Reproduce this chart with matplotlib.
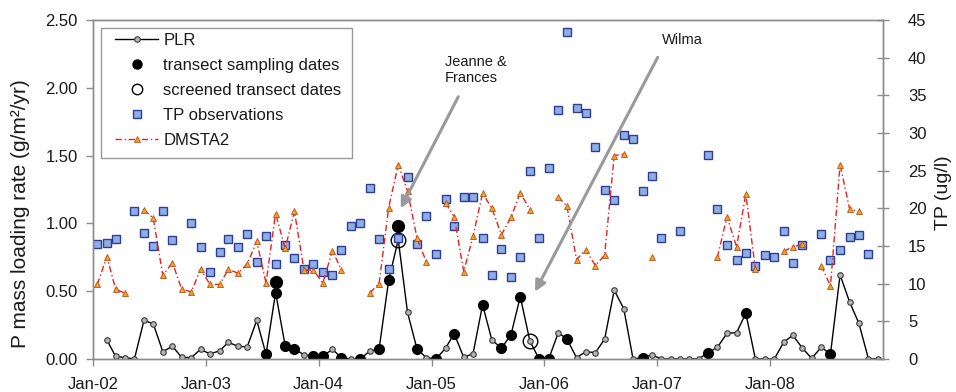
import numpy as np
import pandas as pd
import matplotlib
matplotlib.use("Agg")
import matplotlib.pyplot as plt
import matplotlib.dates as mdates
from matplotlib.lines import Line2D
from matplotlib.patches import Rectangle

plt.rcParams['font.family'] = ['Liberation Sans', 'DejaVu Sans']

# ---------------- data ----------------
# PLR (left axis, g/m2/yr), monthly from Feb 2002
plr_start = "2002-02"
plr_values = [0.14, 0.02, 0.01, 0.00, 0.285, 0.26, 0.054, 0.094, 0.012, 0.01, 0.071,
              0.037, 0.061, 0.123, 0.094, 0.089, 0.285, 0.035, 0.49, 0.098, 0.076, 0.03,
              0.022, 0.022, 0.071, 0.01, 0.0, 0.0, 0.059, 0.074, 0.58, 0.88, 0.344,
              0.071, 0.01, 0.0, 0.079, 0.187, 0.012, 0.039, 0.40, 0.14, 0.079, 0.18,
              0.46, 0.133, 0.0, 0.0, 0.194, 0.147, 0.01, 0.054, 0.047, 0.147, 0.507,
              0.371, 0.0, 0.01, 0.03, 0.0, 0.0, 0.0, 0.0, 0.0, 0.047, 0.086, 0.19,
              0.194, 0.337, 0.0, 0.0, 0.0, 0.125, 0.175, 0.081, 0.005, 0.086, 0.037,
              0.62, 0.42, 0.263, 0.0, 0.0]

# transect sampling dates (left axis)
transect_months = ["2003-07", "2003-08", "2003-09", "2003-10", "2003-12", "2004-01",
                   "2004-03", "2004-05", "2004-07", "2004-08", "2004-11", "2005-01",
                   "2005-03", "2005-06", "2005-08", "2005-09", "2005-10", "2005-12",
                   "2006-01", "2006-03", "2006-11", "2007-06", "2007-10", "2008-07"]
transect_values = [0.035, 0.49, 0.098, 0.076, 0.022, 0.022, 0.01, 0.0, 0.074, 0.58,
                   0.071, 0.0, 0.187, 0.40, 0.079, 0.18, 0.46, 0.0, 0.0, 0.147, 0.01,
                   0.047, 0.337, 0.037]
transect_upper_months = ["2003-08", "2004-09"]
transect_upper_values = [0.57, 0.98]

# screened transect dates (left axis)
screened_months = ["2004-09", "2005-11"]
screened_values = [0.88, 0.133]

# TP observations (right axis, ug/l)
tp_months = ["2002-01", "2002-02", "2002-03", "2002-05", "2002-06", "2002-07", "2002-08",
             "2002-09", "2002-11", "2002-12", "2003-01", "2003-02", "2003-03", "2003-04",
             "2003-05", "2003-06", "2003-07", "2003-08", "2003-09", "2003-10", "2003-11",
             "2003-12", "2004-01", "2004-02", "2004-03", "2004-04", "2004-05", "2004-06",
             "2004-07", "2004-08", "2004-09", "2004-10", "2004-11", "2004-12", "2005-01",
             "2005-02", "2005-03", "2005-04", "2005-05", "2005-06", "2005-07", "2005-08",
             "2005-09", "2005-10", "2005-11", "2005-12", "2006-01", "2006-02", "2006-03",
             "2006-04", "2006-05", "2006-06", "2006-07", "2006-08", "2006-09", "2006-10",
             "2006-11", "2006-12", "2007-01", "2007-03", "2007-06", "2007-07", "2007-08",
             "2007-09", "2007-10", "2007-11", "2007-12", "2008-01", "2008-02", "2008-03",
             "2008-04", "2008-06", "2008-07", "2008-08", "2008-09", "2008-10", "2008-11"]
tp_values = [15.2, 15.4, 15.9, 19.7, 16.7, 15.0, 19.6, 15.8, 18.1, 14.9, 11.5, 14.2,
             15.9, 14.9, 16.6, 12.9, 16.3, 12.6, 15.1, 13.4, 12.0, 12.6, 11.5, 11.1,
             14.5, 17.7, 18.1, 22.7, 15.9, 12.0, 16.0, 24.1, 15.2, 19.0, 14.0, 21.3,
             17.7, 21.5, 21.5, 16.0, 11.1, 14.6, 10.9, 13.6, 25.0, 16.1, 25.4, 33.0,
             43.4, 33.3, 32.7, 28.2, 22.5, 21.1, 29.8, 29.2, 22.3, 24.3, 16.1, 17.0,
             27.1, 19.9, 15.1, 13.2, 14.1, 12.3, 13.8, 13.6, 17.0, 12.8, 15.1, 16.6,
             13.1, 14.5, 16.2, 16.4, 14.0]

# DMSTA2 (right axis, ug/l), monthly from Jan 2002 (None = no value)
dmsta_start = "2002-01"
dmsta_values = [9.9, 13.6, 9.3, 8.7, None, 19.8, 18.7, 11.1, 12.8, 9.3, 8.9, 11.9,
                9.9, 9.9, 11.9, 11.4, 12.6, 15.6, 10.1, 19.3, 14.7, 19.6, 11.8, 11.8,
                10.1, 14.4, 11.8, None, None, 8.8, 10.0, 20.1, 25.8, 22.3, 16.0, 12.9,
                None, 20.7, 18.9, 11.6, 16.3, 22.0, 20.0, 16.5, 18.8, 22.1, 19.8, None,
                None, 21.5, 20.3, 13.2, 14.5, 12.4, 13.8, 27.0, 27.2, None, None, 13.6,
                None, None, None, None, None, None, 13.5, 18.9, 14.9, 21.9, 11.9, None,
                None, 14.3, 14.9, 15.2, None, 12.4, 9.7, 25.8, 19.9, 19.6]

x_tick_years = [2002, 2003, 2004, 2005, 2006, 2007, 2008]
left_ticks = [0.0, 0.5, 1.0, 1.5, 2.0, 2.5]
right_ticks = [0, 5, 10, 15, 20, 25, 30, 35, 40, 45]


def mid_month(months):
    return pd.to_datetime(months) + pd.Timedelta(days=14)


def monthly(start, n):
    return pd.date_range(start + "-01", periods=n, freq="MS") + pd.Timedelta(days=14)


plr_dates = monthly(plr_start, len(plr_values))
dmsta_dates = monthly(dmsta_start, len(dmsta_values))
dmsta_arr = np.array([np.nan if v is None else v for v in dmsta_values], dtype=float)

# ---------------- figure ----------------
fig = plt.figure(figsize=(9.56, 3.92), dpi=100)
ax = fig.add_axes([93 / 956, 1 - 359 / 392, 790 / 956, 339 / 392])
ax2 = ax.twinx()

spine_c = '#8c8c8c'
text_c = '#1a1a1a'
sq_face, sq_edge = '#8fafe3', '#2e3d9c'
tri_face, tri_edge = '#f3a322', '#b8501a'
dm_color = '#ee2020'
dm_dash = (0, (4.5, 2, 1, 2))

ax.plot(plr_dates, plr_values, '-', color='black', lw=1.0, marker='o', ms=4.0,
        mfc='#b4b4b4', mec='#3a3a3a', mew=0.8, zorder=3)
ax.plot(mid_month(transect_months), transect_values, 'o', color='black', ms=7.0,
        zorder=4, ls='none')
ax.plot(mid_month(transect_upper_months), transect_upper_values, 'o', color='black',
        ms=8.5, zorder=4, ls='none')
ax.plot(mid_month(screened_months), screened_values, 'o', mfc='none', mec='black',
        mew=1.0, ms=10.5, zorder=4, ls='none')

ax2.plot(mid_month(tp_months), tp_values, 's', ls='none', ms=5.2, mfc=sq_face,
         mec=sq_edge, mew=1.0, zorder=2)
ax2.plot(dmsta_dates, dmsta_arr, color=dm_color, lw=1.0, ls=dm_dash,
         marker='^', ms=4.2, mfc=tri_face, mec=tri_edge, mew=0.6, zorder=3)

# axes setup
ax.set_xlim(pd.Timestamp("2002-01-01"), pd.Timestamp("2009-01-01"))
ax.set_ylim(0, 2.5)
ax2.set_ylim(0, 45)
ax.set_xticks([pd.Timestamp(f"{y}-01-01") for y in x_tick_years])
ax.xaxis.set_major_formatter(mdates.DateFormatter('%b-%y'))
ax.set_yticks(left_ticks)
ax.set_yticklabels([f"{v:.2f}" for v in left_ticks])
ax2.set_yticks(right_ticks)

for a in (ax, ax2):
    for s in a.spines.values():
        s.set_color(spine_c)
        s.set_linewidth(1.0)

ax.tick_params(axis='x', direction='out', length=5, width=1, color=spine_c,
               labelsize=12, labelcolor=text_c, pad=8)
ax.tick_params(axis='y', direction='out', length=5, width=1, color=spine_c,
               labelsize=12, labelcolor=text_c, pad=6)
ax2.tick_params(axis='y', direction='inout', length=8, width=1, color=spine_c,
                labelsize=12, labelcolor=text_c, pad=14)

ax.set_ylabel('P mass loading rate (g/m²/yr)', fontsize=15, color=text_c)
ax.yaxis.set_label_coords(-0.080, 0.43)
ax2.set_ylabel('TP (ug/l)', fontsize=14, color=text_c)
ax2.yaxis.set_label_coords(1.066, 0.49)

# annotations
arrow_kw = dict(arrowstyle='-|>', color='#9a9a9a', lw=2.2, mutation_scale=16,
                shrinkA=0, shrinkB=0)
ax2.annotate('', xy=(0.3895, 0.4445), xytext=(0.4624, 0.7737),
             xycoords='axes fraction', textcoords='axes fraction', arrowprops=arrow_kw)
ax2.annotate('', xy=(0.5595, 0.1985), xytext=(0.7148, 0.890),
             xycoords='axes fraction', textcoords='axes fraction', arrowprops=arrow_kw)
ax2.text(0.4456, 0.8525, 'Jeanne &\nFrances', transform=ax2.transAxes, fontsize=10.5,
         ha='left', va='center', color=text_c, linespacing=1.25)
ax2.text(0.7199, 0.941, 'Wilma', transform=ax2.transAxes, fontsize=10.5,
         ha='left', va='center', color=text_c)

# legend (frame drawn separately so the side padding can exceed the top padding)
frame = Rectangle((0.0101, 0.593), 0.3177, 0.3826, transform=ax2.transAxes,
                  facecolor='white', edgecolor='#999999', lw=1.0, zorder=9)
ax2.add_patch(frame)
handles = [
    Line2D([], [], color='black', lw=1.0, marker='o', ms=4.0, mfc='#b4b4b4',
           mec='#3a3a3a', mew=0.8),
    Line2D([], [], ls='none', marker='o', color='black', ms=6.5),
    Line2D([], [], ls='none', marker='o', mfc='none', mec='black', mew=1.0, ms=7.5),
    Line2D([], [], ls='none', marker='s', ms=5.2, mfc=sq_face, mec=sq_edge, mew=1.0),
    Line2D([], [], color=dm_color, lw=1.0, ls=dm_dash, marker='^', ms=4.2,
           mfc=tri_face, mec=tri_edge, mew=0.6),
]
labels = ['PLR', 'transect sampling dates', 'screened transect dates',
          'TP observations', 'DMSTA2']
leg = ax2.legend(handles, labels, loc='upper left', bbox_to_anchor=(0.0278, 0.962),
                 fontsize=12, frameon=False, numpoints=1, handlelength=2.6,
                 handletextpad=0.3, labelspacing=0.6, borderpad=0.0,
                 borderaxespad=0.0)
leg.set_zorder(10)
for t in leg.get_texts():
    t.set_color(text_c)

fig.savefig('out.png', dpi=100)
